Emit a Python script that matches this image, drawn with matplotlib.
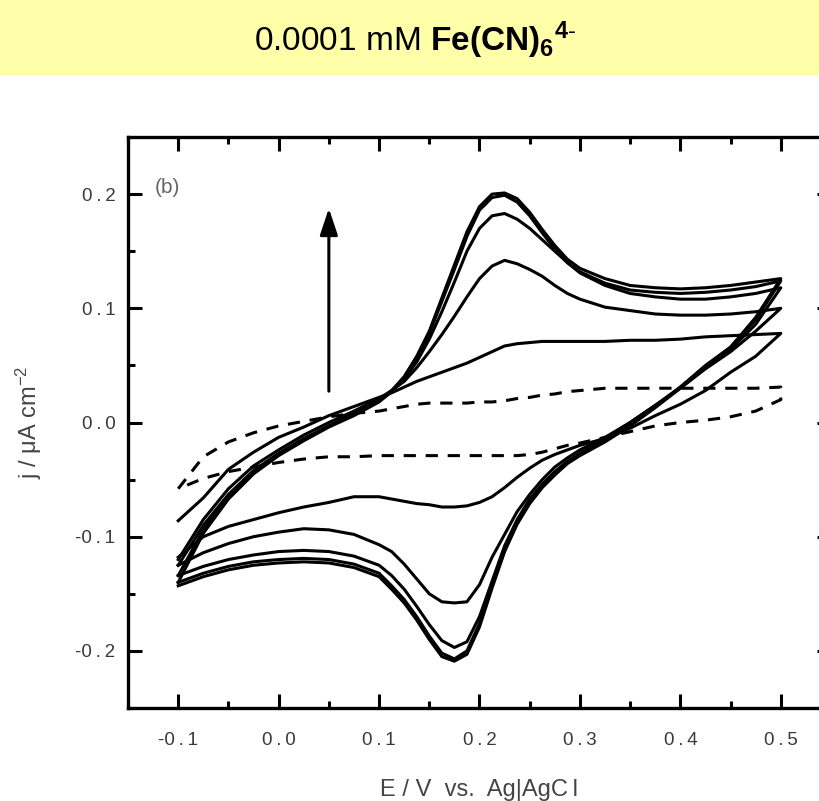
import matplotlib
matplotlib.use('Agg')
import matplotlib.pyplot as plt
from matplotlib.patches import Rectangle
import numpy as np

plt.rcParams['font.family'] = ['Liberation Sans', 'DejaVu Sans']
plt.rcParams['mathtext.fontset'] = 'custom'
plt.rcParams['mathtext.rm'] = 'Liberation Sans'
plt.rcParams['mathtext.bf'] = 'Liberation Sans:bold'
plt.rcParams['mathtext.it'] = 'Liberation Sans:italic'

# potential grid (V vs Ag|AgCl), shared by all sweeps
E = [-0.1, -0.075, -0.05, -0.025, 0.0, 0.025, 0.05, 0.075, 0.1, 0.1125, 0.125,
     0.1375, 0.15, 0.1625, 0.175, 0.1875, 0.2, 0.2125, 0.225, 0.2375, 0.25,
     0.2625, 0.275, 0.2875, 0.3, 0.325, 0.35, 0.375, 0.4, 0.425, 0.45, 0.475, 0.5]

# cycle 1 (dashed)
c1_fwd = [-0.058, -0.030, -0.017, -0.009, -0.003, 0.001, 0.005, 0.008, 0.010, 0.012, 0.014,
          0.016, 0.017, 0.017, 0.017, 0.017, 0.018, 0.018, 0.019, 0.021, 0.022,
          0.024, 0.025, 0.027, 0.028, 0.030, 0.030, 0.030, 0.030, 0.030, 0.030, 0.030, 0.031]
c1_rev = [-0.058, -0.049, -0.043, -0.039, -0.035, -0.032, -0.030, -0.030, -0.029, -0.029, -0.029,
          -0.029, -0.029, -0.029, -0.029, -0.029, -0.029, -0.029, -0.029, -0.029, -0.028,
          -0.026, -0.023, -0.020, -0.018, -0.013, -0.008, -0.003, 0.000, 0.002, 0.005, 0.010, 0.020]

c2_fwd = [-0.086, -0.066, -0.041, -0.026, -0.013, -0.004, 0.006, 0.014, 0.022, 0.026, 0.031,
          0.036, 0.040, 0.044, 0.048, 0.052, 0.057, 0.062, 0.067, 0.069, 0.070,
          0.071, 0.071, 0.071, 0.071, 0.071, 0.072, 0.072, 0.073, 0.075, 0.076, 0.077, 0.078]
c2_rev = [-0.118, -0.100, -0.091, -0.085, -0.079, -0.074, -0.070, -0.065, -0.065, -0.067, -0.069,
          -0.071, -0.072, -0.074, -0.074, -0.073, -0.070, -0.065, -0.057, -0.048, -0.040,
          -0.033, -0.028, -0.024, -0.020, -0.014, -0.005, 0.006, 0.016, 0.028, 0.044, 0.058, 0.078]

c3_fwd = [-0.120, -0.085, -0.058, -0.038, -0.024, -0.011, 0.000, 0.010, 0.021, 0.028, 0.036,
          0.048, 0.062, 0.077, 0.093, 0.110, 0.126, 0.137, 0.142, 0.139, 0.134,
          0.128, 0.120, 0.113, 0.108, 0.101, 0.098, 0.095, 0.094, 0.094, 0.095, 0.097, 0.100]
c3_rev = [-0.125, -0.114, -0.106, -0.100, -0.096, -0.093, -0.094, -0.098, -0.107, -0.113, -0.124,
          -0.137, -0.150, -0.157, -0.158, -0.157, -0.142, -0.118, -0.098, -0.078, -0.063,
          -0.050, -0.039, -0.031, -0.024, -0.013, 0.000, 0.015, 0.030, 0.047, 0.062, 0.080, 0.100]

c4_fwd = [-0.125, -0.090, -0.063, -0.042, -0.027, -0.014, -0.003, 0.008, 0.019, 0.027, 0.038,
          0.053, 0.073, 0.097, 0.123, 0.150, 0.170, 0.181, 0.183, 0.178, 0.170,
          0.160, 0.150, 0.140, 0.131, 0.120, 0.113, 0.110, 0.108, 0.108, 0.110, 0.113, 0.118]
c4_rev = [-0.134, -0.126, -0.120, -0.116, -0.113, -0.112, -0.113, -0.117, -0.125, -0.134, -0.146,
          -0.161, -0.177, -0.191, -0.197, -0.192, -0.170, -0.139, -0.108, -0.085, -0.067,
          -0.054, -0.043, -0.034, -0.027, -0.014, 0.000, 0.015, 0.031, 0.049, 0.064, 0.086, 0.118]

c5_fwd = [-0.134, -0.094, -0.065, -0.043, -0.028, -0.015, -0.003, 0.007, 0.019, 0.028, 0.040,
          0.057, 0.078, 0.106, 0.134, 0.163, 0.186, 0.197, 0.199, 0.193, 0.181,
          0.166, 0.152, 0.140, 0.132, 0.122, 0.116, 0.114, 0.113, 0.114, 0.116, 0.119, 0.124]
c5_rev = [-0.140, -0.132, -0.126, -0.122, -0.120, -0.119, -0.120, -0.124, -0.132, -0.143, -0.155,
          -0.170, -0.187, -0.202, -0.207, -0.200, -0.176, -0.143, -0.112, -0.088, -0.070,
          -0.056, -0.045, -0.035, -0.028, -0.016, -0.002, 0.014, 0.031, 0.050, 0.066, 0.090, 0.124]

c6_fwd = [-0.140, -0.097, -0.067, -0.045, -0.029, -0.016, -0.004, 0.006, 0.018, 0.027, 0.040,
          0.058, 0.080, 0.109, 0.138, 0.167, 0.189, 0.200, 0.201, 0.196, 0.184,
          0.169, 0.155, 0.143, 0.135, 0.126, 0.120, 0.118, 0.117, 0.118, 0.120, 0.123, 0.126]
c6_rev = [-0.143, -0.135, -0.129, -0.125, -0.123, -0.122, -0.123, -0.127, -0.135, -0.146, -0.158,
          -0.173, -0.190, -0.205, -0.209, -0.203, -0.179, -0.145, -0.113, -0.089, -0.071,
          -0.057, -0.046, -0.036, -0.029, -0.017, -0.003, 0.013, 0.030, 0.049, 0.066, 0.092, 0.126]

cycles = [(c1_fwd, c1_rev, (0, (4, 3.2))),
          (c2_fwd, c2_rev, '-'),
          (c3_fwd, c3_rev, '-'),
          (c4_fwd, c4_rev, '-'),
          (c5_fwd, c5_rev, '-'),
          (c6_fwd, c6_rev, '-')]

xticks = [-0.1, 0.0, 0.1, 0.2, 0.3, 0.4, 0.5]
yticks = [-0.2, -0.1, 0.0, 0.1, 0.2]
ts = '\u2009'  # the original labels are letter-spaced


def spaced(v):
    return f'{v:.1f}'.replace('.', ts + '.' + ts)


fig = plt.figure(figsize=(8.2, 8.01), dpi=100)
fig.patches.append(Rectangle((0, 1 - 75 / 801), 1, 75 / 801, transform=fig.transFigure,
                             facecolor='#ffffaa', edgecolor='none', zorder=0))
fig.text(0.506, 1 - 40 / 801, r'0.0001 mM $\mathbf{Fe(CN)_6{}^{4\text{-}}}$',
         ha='center', va='center', fontsize=24, color='black')

ax = fig.add_axes([128 / 820, 93 / 801, 703 / 820, 571 / 801])
for fwd, rev, ls in cycles:
    x = list(E) + list(E[::-1])
    y = list(fwd) + list(rev[::-1])
    ax.plot(x, y, color='black', lw=2.2, ls=ls, solid_joinstyle='round')

ax.annotate('', xy=(0.05, 0.19), xytext=(0.05, 0.025),
            arrowprops=dict(arrowstyle='-|>,head_width=0.3,head_length=0.9', color='black',
                            lw=2.2, mutation_scale=18))
ax.text(-0.123, 0.206, '(b)', fontsize=15, color='#666666', ha='left', va='center')

ax.set_xlim(-0.15, 0.55)
ax.set_ylim(-0.25, 0.25)
ax.set_xticks(xticks)
ax.set_xticks(np.arange(-0.15, 0.56, 0.05), minor=True)
ax.set_yticks(yticks)
ax.set_yticks(np.arange(-0.25, 0.26, 0.05), minor=True)
ax.set_xticklabels([spaced(v) for v in xticks])
ax.set_yticklabels([spaced(v) for v in yticks])
ax.tick_params(which='both', direction='in', top=True, right=True, width=2.2, colors='black',
               labelcolor='#3a3a3a', labelsize=13.5)
ax.tick_params(which='major', length=10)
ax.tick_params(which='minor', length=5)
ax.tick_params(axis='x', pad=17)
ax.tick_params(axis='y', pad=9)
for s in ax.spines.values():
    s.set_linewidth(2.4)

ax.set_xlabel('E / V  vs.  Ag|AgC' + ts + 'l', fontsize=17, color='#444444')
ax.xaxis.set_label_coords(0.5, -0.125)
ax.set_ylabel(r'j / $\mathrm{\mu}$A cm$^{-2}$', fontsize=17, color='#444444')
ax.yaxis.set_label_coords(-0.12, 0.5)

fig.savefig('out.png', dpi=100)
